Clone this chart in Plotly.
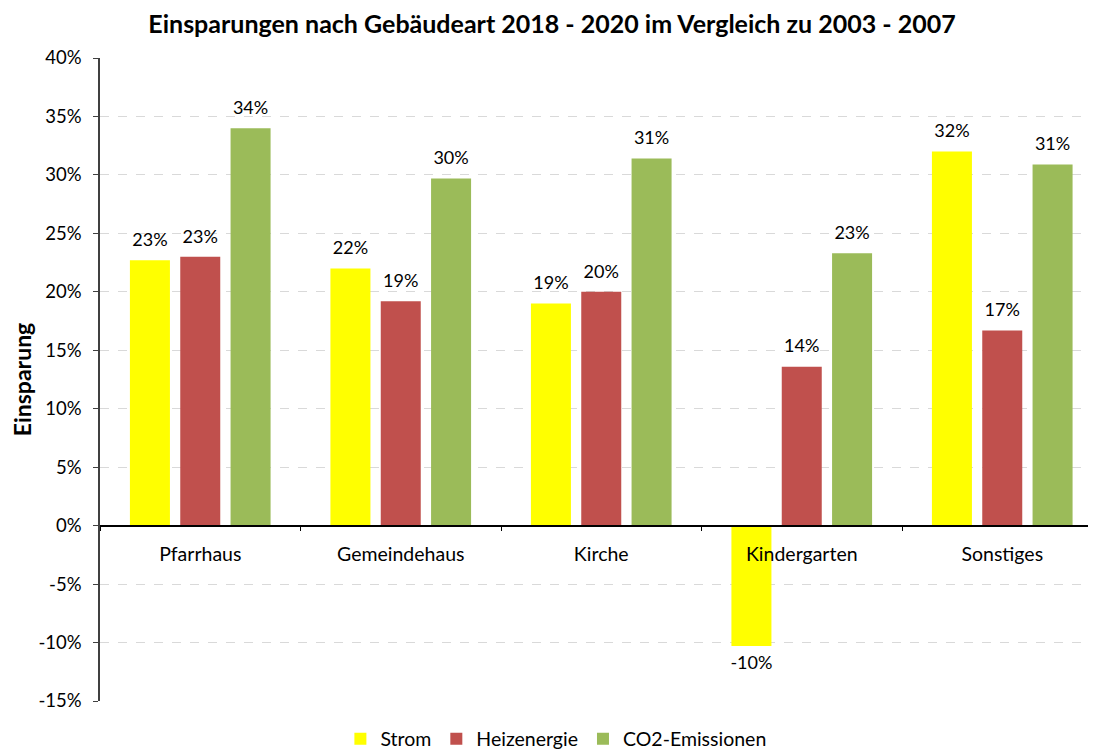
import plotly.graph_objects as go

categories = ["Pfarrhaus", "Gemeindehaus", "Kirche", "Kindergarten", "Sonstiges"]
strom = [0.227, 0.220, 0.190, -0.103, 0.320]
heizenergie = [0.230, 0.192, 0.200, 0.136, 0.167]
co2 = [0.340, 0.297, 0.314, 0.233, 0.309]

ytick_vals = [-0.15, -0.10, -0.05, 0.0, 0.05, 0.10, 0.15, 0.20, 0.25, 0.30, 0.35, 0.40]
ytick_text = ["-15%", "-10%", "-5%", "0%", "5%", "10%", "15%", "20%", "25%", "30%", "35%", "40%"]

series = [
    ("Strom", strom, "#FFFF00"),
    ("Heizenergie", heizenergie, "#C0504D"),
    ("CO2-Emissionen", co2, "#9BBB59"),
]

FONT = "Lato, Carlito, Calibri, sans-serif"
BARGAP = 0.247
# the page body adds an 8px margin; the figure is sized to fill the rest
OFF = 8
W, H = 1096 - OFF, 749 - OFF
LEFT = 100
CAT_W = 200.5  # px per category; last category runs past the right edge
plot_w = 1096 - LEFT
x_max = plot_w / CAT_W - 0.5

fig = go.Figure()
for i, (name, vals, color) in enumerate(series):
    fig.add_trace(go.Bar(
        x=categories, y=vals, name=name,
        marker=dict(color=color, line=dict(width=0)),
        offsetgroup=str(i), hoverinfo="x+y+name",
    ))
for i, (name, vals, color) in enumerate(series):
    labels = [f"{round(v * 100):.0f}%" for v in vals]
    positions = ["top center" if v >= 0 else "bottom center" for v in vals]
    fig.add_trace(go.Scatter(
        x=categories, y=vals, mode="markers+text", text=labels,
        textposition=positions, offsetgroup=str(i),
        marker=dict(size=14, opacity=0),
        textfont=dict(size=18, color="black", family=FONT),
        showlegend=False, hoverinfo="skip", cliponaxis=False,
    ))

ymin, ymax = -0.15, 0.40
fig.update_layout(
    width=W, height=H,
    margin=dict(l=LEFT - OFF, r=0, t=58 - OFF, b=48, autoexpand=False),
    plot_bgcolor="white", paper_bgcolor="white",
    font=dict(family=FONT, size=18, color="black"),
    title=dict(text="<b>Einsparungen nach Gebäudeart 2018 - 2020 im Vergleich zu 2003 - 2007</b>",
               x=(552 - OFF) / W, xanchor="center", y=1 - (24 - OFF) / H, yanchor="middle",
               yref="container", font=dict(size=25, family=FONT)),
    barmode="group", bargap=BARGAP, bargroupgap=0.205,
    scattermode="group", scattergap=BARGAP,
    showlegend=True,
    legend=dict(orientation="h", x=(506 - OFF) / W, xanchor="center", y=1 - (739 - OFF) / H,
                yanchor="middle", yref="container", font=dict(size=19.5),
                traceorder="normal", itemwidth=30),
)
fig.update_yaxes(
    range=[ymin, ymax], tickvals=ytick_vals, ticktext=ytick_text,
    showgrid=True, gridcolor="#D9D9D9", griddash="dash", gridwidth=1,
    showline=True, linecolor="#404040", linewidth=1.5,
    ticks="outside", ticklen=5, tickcolor="#404040",
    zeroline=False, automargin=False,
    title=dict(text="<b>Einsparung</b>", font=dict(size=23), standoff=5),
    tickfont=dict(size=18.5), ticklabelstandoff=8,
)
fig.update_xaxes(
    range=[-0.5, x_max],
    anchor="free", position=(0 - ymin) / (ymax - ymin),
    showline=True, linecolor="black", linewidth=1.5,
    ticks="outside", ticklen=5, tickcolor="black", tickson="boundaries",
    showgrid=False, tickfont=dict(size=19.5), ticklabelstandoff=11, automargin=False,
)
fig.write_html("out.html")
